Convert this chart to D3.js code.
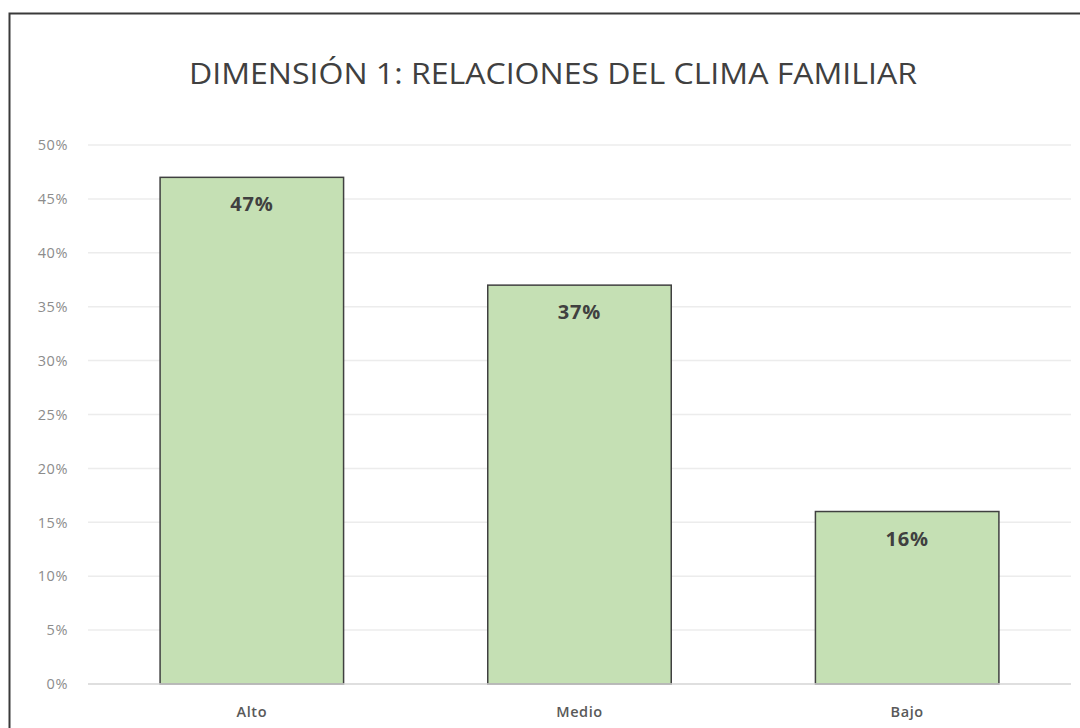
<!DOCTYPE html>
<html><head><meta charset="utf-8">
<script src="https://cdn.jsdelivr.net/npm/d3@7"></script>
<style>body{margin:0;background:#fff}svg{display:block}</style>
</head><body>
<svg id="c" width="1080" height="728"></svg>
<script>
const title = "DIMENSIÓN 1: RELACIONES DEL CLIMA FAMILIAR";
const categories = ["Alto", "Medio", "Bajo"];
const values = [47, 37, 16];
const yTicks = [0, 5, 10, 15, 20, 25, 30, 35, 40, 45, 50];

const svg = d3.select("#c");
const font = "'Open Sans', 'Noto Sans', sans-serif";

// outer border
svg.append("rect").attr("x", 9.5).attr("y", 13.5).attr("width", 1100).attr("height", 800)
  .attr("fill", "#fff").attr("stroke", "#3a3a3a").attr("stroke-width", 2);

const x = d3.scaleBand().domain(categories).range([88, 1071]).paddingInner(0.44).paddingOuter(0.22);
const y = d3.scaleLinear().domain([0, 50]).range([684, 145]);

// gridlines
svg.append("g").selectAll("line").data(yTicks.filter(d => d > 0)).join("line")
  .attr("x1", 88).attr("x2", 1071).attr("y1", d => y(d)).attr("y2", d => y(d))
  .attr("stroke", "#ececec").attr("stroke-width", 1.5);

// y tick labels
svg.append("g").selectAll("text").data(yTicks).join("text")
  .attr("x", 68).attr("y", d => y(d)).attr("dy", "0.36em").attr("text-anchor", "end")
  .attr("font-family", font).attr("font-size", 14.5).attr("letter-spacing", 0.6).attr("fill", "#8c8c8c")
  .text(d => d + "%");

// bars
svg.append("g").selectAll("rect").data(values).join("rect")
  .attr("x", (d, i) => x(categories[i])).attr("width", x.bandwidth())
  .attr("y", d => y(d)).attr("height", d => y(0) - y(d))
  .attr("fill", "#c5e0b4").attr("stroke", "#404040").attr("stroke-width", 1.5);

// baseline
svg.append("line").attr("x1", 88).attr("x2", 1071).attr("y1", y(0)).attr("y2", y(0))
  .attr("stroke", "#d4d4d4").attr("stroke-width", 1.5);

// value labels
svg.append("g").selectAll("text").data(values).join("text")
  .attr("x", (d, i) => x(categories[i]) + x.bandwidth() / 2).attr("y", d => y(d) + 34)
  .attr("text-anchor", "middle").attr("font-family", font).attr("font-size", 20)
  .attr("letter-spacing", 0.8)
  .attr("font-weight", "bold").attr("fill", "#404040")
  .text(d => d + "%");

// category labels
svg.append("g").selectAll("text").data(categories).join("text")
  .attr("x", d => x(d) + x.bandwidth() / 2).attr("y", 717)
  .attr("text-anchor", "middle").attr("font-family", font).attr("font-size", 14.5)
  .attr("letter-spacing", 0.6)
  .attr("font-weight", 600).attr("fill", "#595959")
  .text(d => d);

// title
svg.append("text").attr("x", 553).attr("y", 84).attr("text-anchor", "middle")
  .attr("font-family", font).attr("font-size", 30).attr("fill", "#404040")
  .attr("textLength", 728).attr("lengthAdjust", "spacingAndGlyphs")
  .text(title);
</script>
</body></html>
